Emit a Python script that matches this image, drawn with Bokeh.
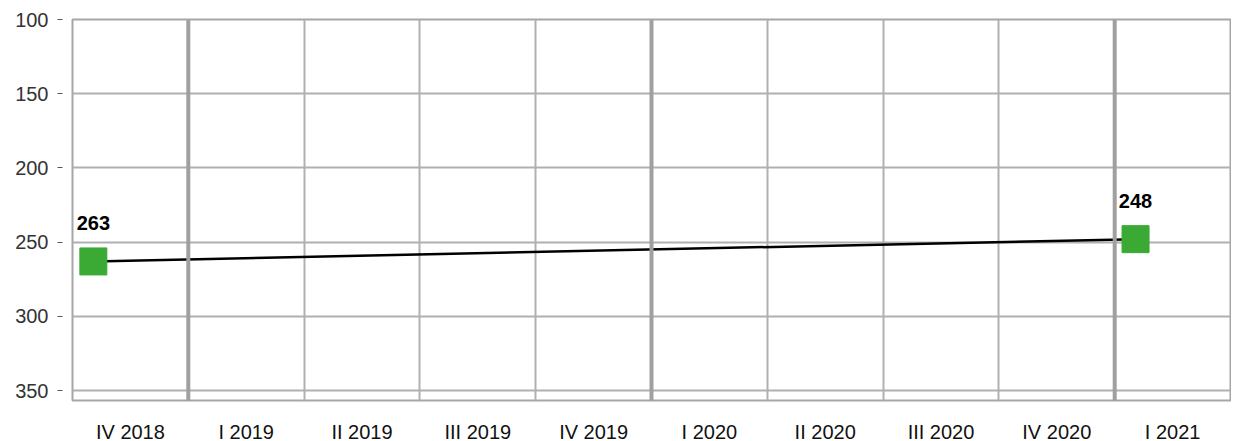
from bokeh.plotting import figure
from bokeh.models import ColumnDataSource, FixedTicker, Range1d, Span, LabelSet
from bokeh.embed import file_html
from bokeh.resources import INLINE
from bokeh.core.properties import value

quarters = ["IV 2018", "I 2019", "II 2019", "III 2019", "IV 2019",
            "I 2020", "II 2020", "III 2020", "IV 2020", "I 2021"]
point_quarters = ["IV 2018", "I 2021"]
point_values = [263, 248]
y_ticks = [100, 150, 200, 250, 300, 350]

OFFSET = 0.18  # marker position inside each quarter slot

xs = [quarters.index(q) + OFFSET for q in point_quarters]
src = ColumnDataSource(dict(x=xs, y=point_values, lab=[str(v) for v in point_values]))

p = figure(frame_width=1158, frame_height=381, output_backend="svg", toolbar_location=None,
           x_range=Range1d(0, len(quarters)), y_range=Range1d(356.7, 100),
           min_border_left=72, min_border_right=1, min_border_top=19, min_border_bottom=30)

p.outline_line_color = "#a6a6a6"
p.outline_line_width = 2
p.background_fill_color = "white"
p.border_fill_color = "white"

FONT = "Liberation Sans"

# x axis
p.xaxis.ticker = FixedTicker(ticks=[i + 0.5 for i in range(len(quarters))])
p.xaxis.major_label_overrides = {i + 0.5: q for i, q in enumerate(quarters)}
p.xaxis.major_tick_line_color = None
p.xaxis.minor_tick_line_color = None
p.xaxis.axis_line_color = None
p.xaxis.major_tick_in = 0
p.xaxis.major_tick_out = 0
p.xaxis.major_label_standoff = 20
p.xaxis.major_label_text_font = FONT
p.xaxis.major_label_text_font_size = "20px"
p.xaxis.major_label_text_color = "#111111"

# y axis
p.yaxis.ticker = FixedTicker(ticks=y_ticks)
p.yaxis.axis_line_color = None
p.yaxis.minor_tick_line_color = None
p.yaxis.major_tick_in = -10
p.yaxis.major_tick_out = 15
p.yaxis.major_tick_line_color = "#555555"
p.yaxis.major_tick_line_width = 1
p.yaxis.major_label_standoff = 9
p.yaxis.major_label_text_font = FONT
p.yaxis.major_label_text_font_size = "20px"
p.yaxis.major_label_text_color = "#333333"

# grids
p.ygrid.ticker = FixedTicker(ticks=y_ticks[1:])
p.ygrid.grid_line_color = "#b0b0b0"
p.ygrid.grid_line_width = 2
p.xgrid.ticker = FixedTicker(ticks=list(range(1, len(quarters))))
p.xgrid.grid_line_color = "#b0b0b0"
p.xgrid.grid_line_width = 2
for i, q in enumerate(quarters):
    if i > 0 and q.startswith("I "):
        p.add_layout(Span(location=i, dimension="height", line_color="#a0a0a0", line_width=4))

p.line("x", "y", source=src, line_color="black", line_width=2.5)
p.scatter("x", "y", source=src, marker="square", size=27, fill_color="#3aaa35", line_color="#3aaa35")
p.add_layout(LabelSet(x="x", y="y", text="lab", source=src, y_offset=38, text_align="center",
                      text_baseline="middle",
                      text_font=value(FONT), text_font_style="bold",
                      text_font_size="20px", text_color="black"))

open("out.html", "w").write(file_html(p, INLINE))
